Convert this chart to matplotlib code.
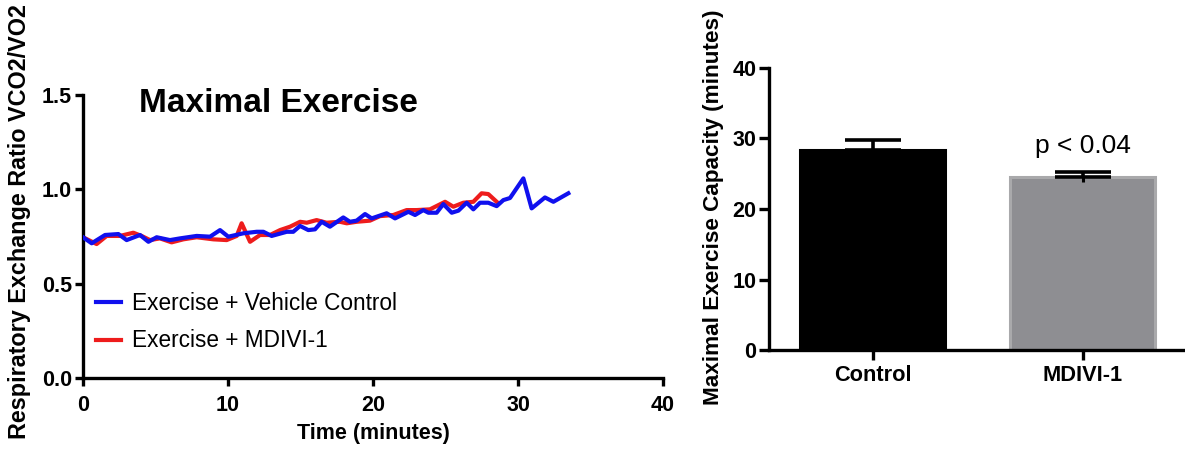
import matplotlib
matplotlib.use("Agg")
import matplotlib.pyplot as plt

plt.rcParams['font.family'] = ['Liberation Sans', 'DejaVu Sans']

# ---- data: RER over time ----
vehicle_t = [0, 0.6, 1.52, 2.44, 3.01, 3.93, 4.51, 5.08, 6.0, 6.69, 7.84, 8.76, 9.45, 10.02,
             11.06, 11.98, 12.44, 13.01, 14.05, 14.5, 14.97, 15.54, 16.0, 16.46, 17.03, 17.95,
             18.41, 18.87, 19.45, 19.91, 20.94, 21.52, 22.44, 22.9, 23.47, 23.82, 24.39, 24.85,
             25.43, 25.89, 26.46, 26.92, 27.38, 27.95, 28.53, 28.99, 29.45, 30.37, 30.94, 31.86,
             32.44, 33.47]
vehicle_rer = [0.746, 0.714, 0.758, 0.763, 0.731, 0.758, 0.722, 0.746, 0.731, 0.740, 0.753, 0.749,
               0.784, 0.749, 0.767, 0.775, 0.775, 0.753, 0.775, 0.775, 0.806, 0.784, 0.788, 0.828,
               0.802, 0.851, 0.828, 0.834, 0.869, 0.846, 0.873, 0.846, 0.881, 0.864, 0.890, 0.876,
               0.876, 0.922, 0.876, 0.887, 0.929, 0.894, 0.929, 0.929, 0.911, 0.943, 0.954, 1.058,
               0.899, 0.957, 0.934, 0.979]

mdivi_t = [0, 0.94, 1.63, 2.55, 3.47, 4.04, 4.62, 5.31, 6.11, 6.92, 7.84, 8.99, 9.91, 10.6, 10.94,
           11.52, 12.21, 12.9, 13.59, 14.28, 14.97, 15.43, 16.11, 16.8, 17.72, 18.19, 18.87, 19.79,
           20.48, 21.4, 22.32, 23.01, 23.93, 24.97, 25.54, 26.23, 26.92, 27.49, 27.95, 28.53]
mdivi_rer = [0.746, 0.710, 0.753, 0.753, 0.770, 0.753, 0.731, 0.740, 0.719, 0.735, 0.746, 0.735,
             0.731, 0.753, 0.820, 0.722, 0.758, 0.758, 0.784, 0.802, 0.828, 0.823, 0.837, 0.823,
             0.828, 0.820, 0.828, 0.834, 0.858, 0.864, 0.890, 0.890, 0.894, 0.934, 0.908, 0.929,
             0.934, 0.979, 0.975, 0.934]

# ---- data: maximal exercise capacity ----
groups = ['Control', 'MDIVI-1']
capacity = [28.4, 24.5]
capacity_err = [1.4, 0.7]
p_text = 'p < 0.04'

W, H = 1185, 449
fig = plt.figure(figsize=(W / 100, H / 100), dpi=100)

def fx(px):
    return px / W

def fy(py):
    return 1 - py / H

AXW = 2.4
TICK_FS = 15.5
# ---------------- left panel ----------------
ax1 = fig.add_axes([fx(83), fy(378), fx(663) - fx(83), fy(95) - fy(378)])
ax1.plot(mdivi_t, mdivi_rer, color='#ee1c1c', lw=3.0, label='Exercise + MDIVI-1', zorder=2)
ax1.plot(vehicle_t, vehicle_rer, color='#1010ee', lw=3.0, label='Exercise + Vehicle Control', zorder=3)
ax1.set_xlim(0, 40)
ax1.set_ylim(0, 1.5)
ax1.set_xticks([0, 10, 20, 30, 40])
ax1.set_yticks([0.0, 0.5, 1.0, 1.5])
ax1.set_yticklabels(['0.0', '0.5', '1.0', '1.5'])
for s in ['top', 'right']:
    ax1.spines[s].set_visible(False)
for s in ['left', 'bottom']:
    ax1.spines[s].set_linewidth(AXW)
ax1.tick_params(width=AXW, length=6, labelsize=TICK_FS)
ax1.tick_params(axis='x', pad=6)
ax1.tick_params(axis='y', pad=2)
for lab in ax1.get_xticklabels() + ax1.get_yticklabels():
    lab.set_fontweight('bold')
ax1.set_xlabel('Time (minutes)', fontsize=15.5, fontweight='bold')
ax1.xaxis.set_label_coords((373 - 83) / (663 - 83), -(433 - 378) / (378 - 95))
ax1.xaxis.label.set_va('center')
ax1.set_ylabel('Respiratory Exchange Ratio VCO2/VO2', fontsize=16.8, fontweight='bold')
ax1.yaxis.set_label_coords(-(83 - 20) / (663 - 83), (378 - 222) / (378 - 95))
ax1.yaxis.label.set_va('center')
ax1.text((278 - 83) / (663 - 83), (378 - 103) / (378 - 95), 'Maximal Exercise',
         transform=ax1.transAxes, ha='center', va='center', fontsize=24, fontweight='bold')
h, l = ax1.get_legend_handles_labels()
leg = ax1.legend(h[::-1], l[::-1], loc='upper left', frameon=False, fontsize=16.3,
                 bbox_to_anchor=((96 - 83) / (663 - 83), (378 - 292) / (378 - 95)),
                 handlelength=1.1, handletextpad=0.5, labelspacing=0.64, borderaxespad=0, borderpad=0)

# ---------------- right panel ----------------
ax2 = fig.add_axes([fx(769), fy(350), fx(1185) - fx(769), fy(68) - fy(350)])
xpos = [0, 1]
ax2.bar(xpos, capacity, width=0.69, color=['black', '#8e8e92'],
        edgecolor=['black', '#a9a9ab'], linewidth=2.2, zorder=2)
ax2.errorbar(xpos, capacity, yerr=[[0, 0], capacity_err], fmt='none', ecolor='black',
             elinewidth=2.6, capsize=20, capthick=2.6, zorder=3)
ax2.errorbar(xpos, capacity, yerr=[capacity_err, [0, 0]], fmt='none', ecolor='black',
             elinewidth=2.2, capsize=0, zorder=3)
ax2.text(1, 27.9, p_text, ha='center', va='baseline', fontsize=19)
ax2.set_xlim(-0.495, 1.486)
ax2.set_ylim(0, 40)
ax2.set_xticks(xpos)
ax2.set_xticklabels(groups, fontsize=15.7, fontweight='bold')
ax2.set_yticks([0, 10, 20, 30, 40])
for s in ['top', 'right']:
    ax2.spines[s].set_visible(False)
for s in ['left', 'bottom']:
    ax2.spines[s].set_linewidth(AXW)
ax2.tick_params(width=AXW, length=7, pad=4)
ax2.tick_params(axis='y', labelsize=TICK_FS, pad=2)
for lab in ax2.get_yticklabels():
    lab.set_fontweight('bold')
ax2.set_ylabel('Maximal Exercise Capacity (minutes)', fontsize=16.2, fontweight='bold')
ax2.yaxis.set_label_coords(-(769 - 713) / (1185 - 769), (350 - 207) / (350 - 68))
ax2.yaxis.label.set_va('center')

fig.savefig('out.png', dpi=100)
